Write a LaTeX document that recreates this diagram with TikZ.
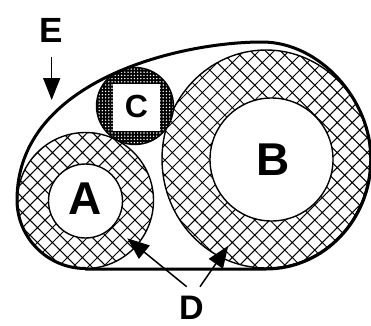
\documentclass[tikz,border=0pt]{standalone}
\usepackage{fontspec}
\setmainfont{Liberation Sans}
\usetikzlibrary{patterns.meta,arrows.meta}
\begin{document}
\begin{tikzpicture}[x=1pt,y=1pt,
  ring/.style={draw=black, line width=1.4pt, pattern={Hatch[angle=45,distance=10.6pt,line width=1pt]}, pattern color=black},
  hole/.style={draw=black, line width=1.4pt, fill=white},
  envelope/.style={draw=black, line width=3pt, line join=round},
  lbl/.style={inner sep=0pt, font=\bfseries\fontsize{#1}{#1}\selectfont},
  pointer/.style={line width=1.5pt, -{Triangle[length=22pt,width=17pt]}}
]
\fill[white] (0,0) rectangle (371,325);
\useasboundingbox (0,0) rectangle (371,325);

% centres
\coordinate (Ac) at (85.5,124.5);
\coordinate (Aic) at (85.5,124);
\coordinate (Bc) at (266,166);
\coordinate (Bic) at (271.5,165.5);
\coordinate (Cc) at (135,219);

% ring A
\path[ring] (Ac) circle[radius=68];
\path[hole] (Aic) circle[radius=37];
% ring B
\path[ring] (Bc) ellipse[x radius=104, y radius=109];
\path[hole] (Bic) circle[radius=61.5];
% C
\fill[black] (Cc) circle[radius=38.5];
\fill[pattern={Dots[distance=3.2pt,radius=0.8pt]}, pattern color=white] (Cc) circle[radius=38.5];
\fill[white] (113,194.5) rectangle (160,241.5);
\draw[line width=1.4pt] (Cc) circle[radius=38.5];

% envelope E
\draw[envelope] (85.5,56) -- (266,56)
  arc[start angle=-90,end angle=0,x radius=105,y radius=110]
  .. controls (371,225) and (320,283) .. (262,283)
  .. controls (180,283) and (17,245) .. (17,125)
  arc[start angle=180,end angle=270,radius=68.5] -- cycle;

% labels
\node[lbl=46] (A) at (85.5,126.5) {A};
\node[lbl=46] (B) at (273.5,165) {B};
\node[lbl=32] (C) at (136.5,219) {C};
\node[lbl=34] (D) at (191.5,17) {D};
\node[lbl=35] (E) at (51,294.5) {E};

% arrows
\coordinate (Es) at (51.7,268);
\coordinate (Et) at (51.7,225);
\coordinate (Dls) at (186.7,38.3);
\coordinate (Dlt) at (127.3,86.7);
\coordinate (Drs) at (200,38.3);
\coordinate (Drt) at (228.3,79.3);
\draw[pointer] (Es) -- (Et);
\draw[pointer] (Dls) -- (Dlt);
\draw[pointer] (Drs) -- (Drt);
\end{tikzpicture}
\end{document}
